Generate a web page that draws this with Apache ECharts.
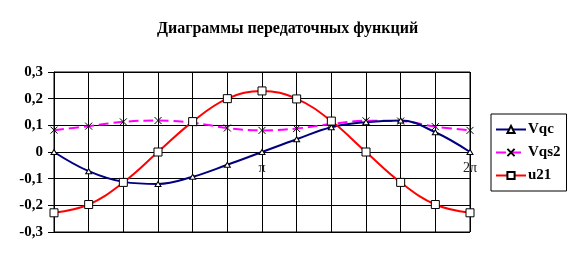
<!DOCTYPE html>
<html><head><meta charset="utf-8">
<script src="https://cdn.jsdelivr.net/npm/echarts@6/dist/echarts.min.js"></script>
<style>html,body{margin:0;padding:0;background:#fff}#c{width:575px;height:260px}</style>
</head><body><div id="c"></div>
<script>
var categories = ['', '', '', '', '', '', 'π', '', '', '', '', '', '2π'];
var vqc  = [0, -0.072, -0.112, -0.12, -0.093, -0.048, 0, 0.048, 0.093, 0.112, 0.118, 0.074, 0];
var vqs2 = [0.082, 0.097, 0.113, 0.118, 0.11, 0.09, 0.081, 0.088, 0.105, 0.117, 0.116, 0.095, 0.081];
var u21  = [-0.228, -0.197, -0.114, 0, 0.114, 0.2, 0.229, 0.199, 0.116, 0, -0.114, -0.197, -0.228];
var yTicks = { min: -0.3, max: 0.3, interval: 0.1 };

var serif = '"Liberation Serif", "DejaVu Serif", serif';
var chart = echarts.init(document.getElementById('c'), null, {renderer: 'canvas'});
var markerStyle = { color: '#fff', borderColor: '#000', borderWidth: 1 };
var gridTop = 72, gridBottom = 28, gridH = 260 - gridTop - gridBottom;
chart.setOption({
  animation: false,
  title: {
    text: 'Диаграммы передаточных функций',
    left: 'center', top: 16,
    textStyle: { fontFamily: serif, fontSize: 16, fontWeight: 'bold', color: '#000' }
  },
  legend: {
    orient: 'vertical', left: 491, top: 114,
    padding: [8, 6, 8, 4],
    itemGap: 8, itemWidth: 30, itemHeight: 9,
    borderColor: '#000', borderWidth: 1,
    textStyle: { fontFamily: serif, fontSize: 15, fontWeight: 'bold', color: '#000', padding: [0, 0, 0, -3] },
    data: ['Vqc', 'Vqs2', 'u21']
  },
  grid: { left: 54, right: 105, top: gridTop, bottom: gridBottom, show: true, borderColor: '#000', borderWidth: 1, containLabel: false },
  xAxis: {
    type: 'category', data: categories, boundaryGap: false,
    offset: -gridH / 2,
    axisLine: { onZero: false, lineStyle: { color: '#000', width: 1 } },
    axisTick: { show: false },
    axisLabel: { interval: 0, margin: 9, fontFamily: serif, fontSize: 14, color: '#222' },
    splitLine: { show: true, interval: 0, lineStyle: { color: '#000', width: 1 } }
  },
  yAxis: {
    type: 'value', min: yTicks.min, max: yTicks.max, interval: yTicks.interval,
    axisLine: { show: true, onZero: false, lineStyle: { color: '#000' } },
    axisTick: { show: true, length: 6, lineStyle: { color: '#000' } },
    axisLabel: {
      margin: 11, fontFamily: serif, fontSize: 15, fontWeight: 'bold', color: '#000',
      formatter: function (v) { var r = Math.round(v * 10) / 10; return r === 0 ? '0' : String(r).replace('.', ','); }
    },
    splitLine: { show: true, lineStyle: { color: '#000', width: 1 } }
  },
  series: [
    { name: 'Vqs2', type: 'line', data: vqs2, smooth: 0.4, z: 2,
      lineStyle: { color: '#ff00ff', width: 2, type: [10, 5] },
      symbol: 'path://M0,0L10,10M10,0L0,10', symbolSize: 7,
      itemStyle: { color: 'rgba(0,0,0,0)', borderColor: '#000', borderWidth: 1 } },
    { name: 'Vqc', type: 'line', data: vqc, smooth: 0.4, z: 3,
      lineStyle: { color: '#000080', width: 2 },
      symbol: 'triangle', symbolSize: [6, 5], itemStyle: markerStyle },
    { name: 'u21', type: 'line', data: u21, smooth: 0.4, z: 4,
      lineStyle: { color: '#ff0000', width: 2 },
      symbol: 'rect', symbolSize: 8, itemStyle: markerStyle }
  ]
});
</script></body></html>
